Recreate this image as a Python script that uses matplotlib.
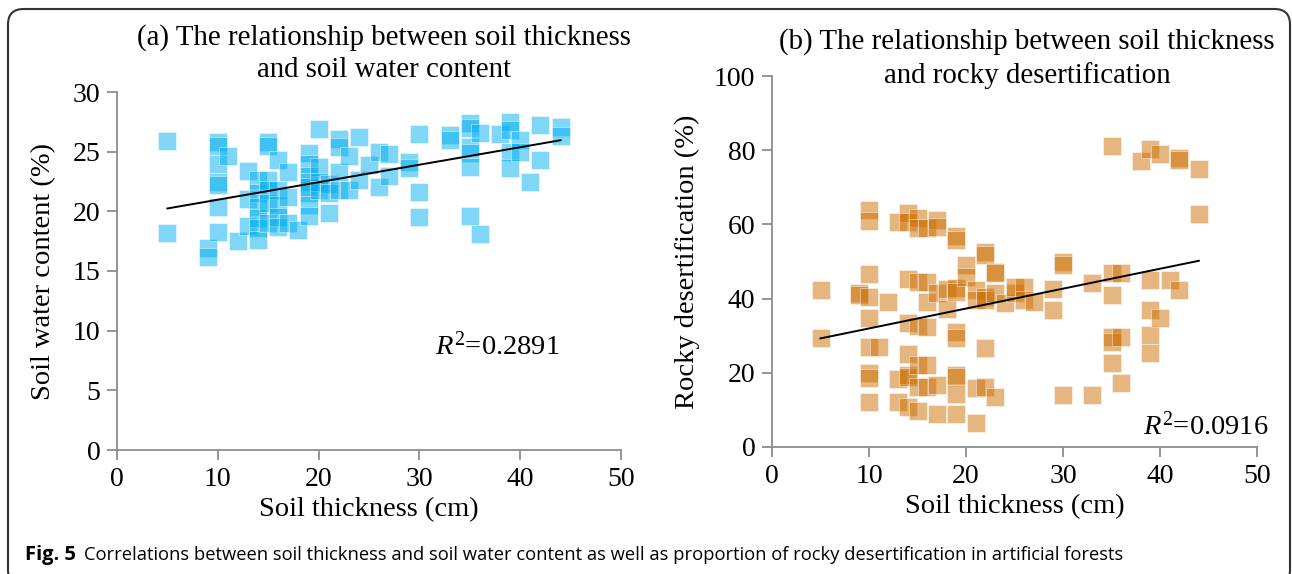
import numpy as np
import matplotlib
matplotlib.use("Agg")
import matplotlib.pyplot as plt
from matplotlib.patches import FancyBboxPatch

# panel (a): soil thickness (cm) vs soil water content (%)
thick_a = [5, 5,
           9, 9,
           10, 10, 10, 10, 10, 10, 10,
           11, 12,
           13, 13, 13,
           14, 14, 14, 14, 14, 14,
           15, 15, 15, 15, 15, 15,
           16, 16, 16, 16, 16,
           17, 17, 17,
           18,
           19, 19, 19, 19, 19, 19, 19, 19,
           20, 20, 20, 20,
           21, 21, 21,
           22, 22, 22, 22,
           23, 23,
           24, 24,
           25,
           26, 26,
           27, 27,
           29, 29,
           30, 30, 30,
           33, 33,
           35, 35, 35, 35, 35, 35,
           36, 36,
           38,
           39, 39, 39, 39,
           40, 40,
           41,
           42, 42,
           44, 44]
water = [25.9, 18.2,
         16.9, 16.2,
         25.8, 25.5, 24.0, 22.5, 22.2, 20.4, 18.3,
         24.6, 17.5,
         23.4, 21.0, 18.8,
         22.6, 21.5, 20.4, 19.4, 18.6, 17.6,
         25.8, 25.5, 22.6, 21.8, 20.7, 19.0,
         24.3, 21.8, 20.5, 19.5, 18.7,
         23.3, 21.2, 19.0,
         18.4,
         24.9, 24.0, 23.0, 22.5, 22.0, 21.5, 20.5, 19.6,
         26.9, 23.7, 22.5, 21.8,
         22.3, 21.5, 19.9,
         26.1, 25.4, 23.3, 21.8,
         24.6, 21.8,
         26.2, 22.6,
         23.9,
         25.0, 22.0,
         24.8, 23.0,
         24.1, 23.6,
         26.5, 21.6, 19.5,
         26.4, 26.0,
         27.4, 27.0, 25.4, 24.9, 23.7, 19.6,
         26.6, 18.1,
         26.5,
         27.5, 26.8, 25.0, 23.6,
         26.0, 25.0,
         22.5,
         27.2, 24.3,
         27.1, 26.3]

# panel (b): soil thickness (cm) vs rocky desertification (%)
thick_b = [5, 5,
           9, 9,
           10, 10, 10, 10, 10, 10, 10, 10, 10,
           11, 12,
           13, 13, 13,
           14, 14, 14, 14, 14, 14, 14, 14,
           15, 15, 15, 15, 15, 15, 15,
           16, 16, 16, 16, 16, 16,
           17, 17, 17, 17, 17,
           18, 18,
           19, 19, 19, 19, 19, 19, 19, 19, 19, 19,
           20, 20,
           21, 21, 21, 21,
           22, 22, 22, 22, 22, 22,
           23, 23, 23, 23,
           24,
           25, 25,
           26, 26,
           27,
           29, 29,
           30, 30, 30,
           33, 33,
           35, 35, 35, 35, 35, 35,
           36, 36, 36,
           38,
           39, 39, 39, 39, 39,
           40, 40,
           41,
           42, 42, 42,
           44, 44]
rocky = [42.3, 29.3,
         41.5, 41.0,
         64.0, 61.0, 46.6, 40.3, 34.7, 27.0, 20.0, 18.5, 12.0,
         27.0, 39.2,
         60.7, 18.2, 12.0,
         63.0, 60.7, 45.4, 33.5, 25.2, 19.5, 18.8, 10.9,
         61.7, 59.0, 44.6, 32.5, 22.1, 16.3, 9.8,
         59.0, 44.6, 39.2, 32.4, 22.1, 16.3,
         61.2, 59.4, 41.4, 16.7, 8.9,
         42.5, 37.1,
         57.0, 55.8, 42.8, 41.8, 31.0, 29.5, 19.5, 18.8, 14.2, 8.9,
         49.0, 45.9,
         42.3, 39.5, 15.8, 6.6,
         52.6, 51.7, 40.5, 39.5, 26.6, 16.3,
         47.3, 46.8, 41.4, 13.6,
         38.7,
         41.4, 43.2,
         43.2, 39.6,
         39.2,
         42.5, 36.9,
         50.0, 49.0, 14.0,
         44.1, 14.0,
         81.0, 46.8, 41.0, 29.7, 28.4, 22.6,
         46.8, 29.7, 17.2,
         77.2,
         80.2, 45.0, 36.9, 30.2, 25.3,
         79.0, 34.7,
         45.0,
         78.0, 77.3, 42.3,
         75.0, 62.8]

plt.rcParams['font.family'] = 'Liberation Serif'
plt.rcParams['mathtext.fontset'] = 'custom'
plt.rcParams['mathtext.rm'] = 'Liberation Serif'
plt.rcParams['mathtext.it'] = 'Liberation Serif:italic'

W, H = 1292, 574
fig = plt.figure(figsize=(W / 100, H / 100), dpi=100)

def px_rect(x0, x1, y_bottom, y_top):
    return [x0 / W, 1 - y_bottom / H, (x1 - x0) / W, (y_bottom - y_top) / H]

ax1 = fig.add_axes(px_rect(117, 621, 450, 92))
ax2 = fig.add_axes(px_rect(772, 1257, 447, 76))

def style(ax, ylim, yticks):
    for s in ['top', 'right']:
        ax.spines[s].set_visible(False)
    for s in ['left', 'bottom']:
        ax.spines[s].set_color('#8c8c8c')
        ax.spines[s].set_linewidth(1.3)
    ax.set_xlim(0, 50)
    ax.set_ylim(*ylim)
    ax.set_xticks(range(0, 51, 10))
    ax.set_yticks(yticks)
    ax.tick_params(colors='#8c8c8c', length=7, width=1.3, labelcolor='black',
                   labelsize=20, pad=5)
    ax.set_xlabel('Soil thickness (cm)', fontsize=20.5, labelpad=4)

def trend(ax, x, y):
    x = np.array(x, float)
    y = np.array(y, float)
    k, b = np.polyfit(x, y, 1)
    xs = np.array([x.min(), x.max()])
    ax.plot(xs, k * xs + b, color='black', lw=1.4, zorder=3)

ax1.scatter(thick_a, water, marker='s', s=150, color='#00AEEF', alpha=0.5,
            edgecolors='white', linewidths=0.6, zorder=2)
trend(ax1, thick_a, water)
style(ax1, (0, 30), range(0, 31, 5))
ax1.set_ylabel('Soil water content (%)', fontsize=20.5, labelpad=12)
ax1.text(31.5, 8.7, r'$R^2$=0.2891', fontsize=20.5, va='center', ha='left')

ax2.scatter(thick_b, rocky, marker='s', s=150, color='#CD6E00', alpha=0.5,
            edgecolors='white', linewidths=0.6, zorder=2)
trend(ax2, thick_b, rocky)
style(ax2, (0, 100), range(0, 101, 20))
ax2.set_ylabel('Rocky desertification (%)', fontsize=20.5, labelpad=10)
ax2.text(38.2, 5.5, r'$R^2$=0.0916', fontsize=20.5, va='center', ha='left',
         clip_on=False)

# panel titles
fig.text(384 / W, 1 - 38 / H, '(a) The relationship between soil thickness',
         fontsize=20.8, ha='center', va='center')
fig.text(384 / W, 1 - 70 / H, 'and soil water content',
         fontsize=20.8, ha='center', va='center')
fig.text(1027 / W, 1 - 42 / H, '(b) The relationship between soil thickness',
         fontsize=20.8, ha='center', va='center')
fig.text(1027 / W, 1 - 76 / H, 'and rocky desertification',
         fontsize=20.8, ha='center', va='center')

# caption
fig.text(25 / W, 1 - 555 / H, 'Fig. 5', family='Open Sans', weight='bold',
         fontsize=14.5, va='center', ha='left')
fig.text(84 / W, 1 - 555 / H,
         'Correlations between soil thickness and soil water content as well as '
         'proportion of rocky desertification in artificial forests',
         family='Open Sans', fontsize=13.2, va='center', ha='left')

# outer frame
frame = FancyBboxPatch((8 / W, -0.02), (1290 - 8) / W, 1 - 9 / H + 0.02,
                       boxstyle='round,pad=0,rounding_size=0.012',
                       mutation_aspect=W / H, transform=fig.transFigure,
                       fill=False, edgecolor='#333333', lw=1.5, clip_on=False)
fig.patches.append(frame)

fig.savefig('out.png', dpi=100)
